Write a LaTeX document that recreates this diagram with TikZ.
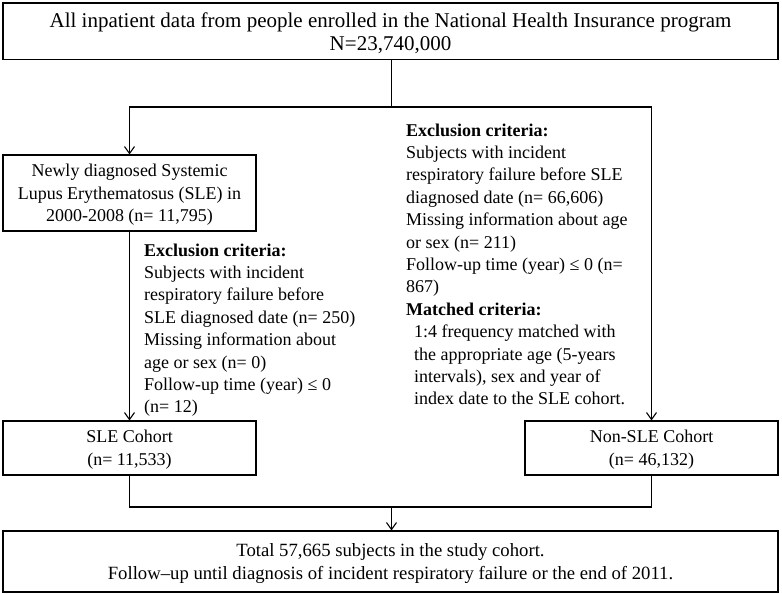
\documentclass[tikz,border=0pt]{standalone}
\usepackage{fontspec}
\setmainfont{Liberation Serif}
\usetikzlibrary{arrows.meta}

\begin{document}
\begin{tikzpicture}[
    x=1pt, y=-1pt,
    % Define box and text styles
    box/.style={draw, line width=1.1pt, align=center, inner sep=0pt, text depth=0pt,
                font=\fontsize{18}{22.5}\selectfont},
    crit/.style={align=left, inner sep=0pt, anchor=north west,
                 font=\fontsize{18}{22.4}\selectfont},
    flow/.style={line width=1.1pt},
    arr/.style={flow, -{Straight Barb[length=7pt,width=10pt]}}
]
\useasboundingbox (0,0) rectangle (782,594);

% Boxes
\node[box, minimum width=775pt, minimum height=56.5pt, text depth=-4pt,
      font=\fontsize{21}{23.2}\selectfont] (all) at (390.5,31.25)
    {All inpatient data from people enrolled in the National Health Insurance program\\N=23,740,000};
\node[box, minimum width=253pt, minimum height=76pt] (newsle) at (129.5,193)
    {Newly diagnosed Systemic\\Lupus Erythematosus (SLE) in\\2000-2008 (n= 11,795)};
\node[box, minimum width=253pt, minimum height=54pt] (slecohort) at (129.5,448)
    {SLE Cohort\\(n= 11,533)};
\node[box, minimum width=253pt, minimum height=54pt] (nonsle) at (651.5,448)
    {Non-SLE Cohort\\(n= 46,132)};
\node[box, minimum width=775pt, minimum height=61pt, text depth=-6pt,
      font=\fontsize{18.7}{23}\selectfont] (total) at (390.5,561.5)
    {Total 57,665 subjects in the study cohort.\\Follow--up until diagnosis of incident respiratory failure or the end of 2011.};

% Criteria texts
\node[crit] (exclsle) at (144,243.5)
    {\textbf{Exclusion criteria:}\\
     Subjects with incident\\
     respiratory failure before\\
     SLE diagnosed date (n= 250)\\
     Missing information about\\
     age or sex (n= 0)\\
     Follow-up time (year) ≤ 0\\
     (n= 12)};
\node[crit] (exclnon) at (406,123.5)
    {\textbf{Exclusion criteria:}\\
     Subjects with incident\\
     respiratory failure before SLE\\
     diagnosed date (n= 66,606)\\
     Missing information about age\\
     or sex (n= 211)\\
     Follow-up time (year) ≤ 0 (n=\\
     867)\\
     \textbf{Matched criteria:}\\
     \hspace*{8pt}1:4 frequency matched with\\
     \hspace*{8pt}the appropriate age (5-years\\
     \hspace*{8pt}intervals), sex and year of\\
     \hspace*{8pt}index date to the SLE cohort.};

% Connectors
\coordinate (split) at (391.5,107);
\coordinate (merge) at (391.5,507);
\draw[flow] (all.south -| split) -- (split);
\draw[arr] (split) -| (newsle.north);
\draw[arr] (split) -| (nonsle.north);
\draw[arr] (newsle.south) -- (slecohort.north);
\draw[flow] (slecohort.south) |- (merge) -| (nonsle.south);
\draw[arr] (merge) -- (total.north -| merge);

\end{tikzpicture}
\end{document}
